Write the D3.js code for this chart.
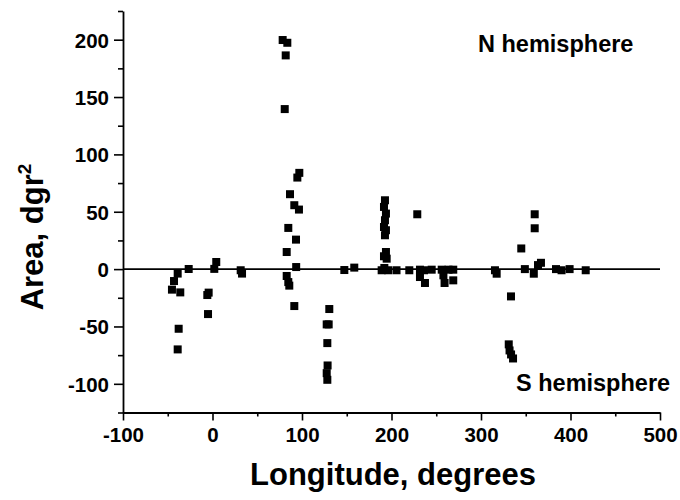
<!DOCTYPE html>
<html>
<head>
<meta charset="utf-8">
<script src="https://cdn.jsdelivr.net/npm/d3@7"></script>
<style>
  body { margin: 0; background: #fff; }
  text { font-family: "Liberation Sans", Arial, sans-serif; font-weight: bold; fill: #000; }
</style>
</head>
<body>
<div id="chart"></div>
<script>
// longitude (degrees) and area (dgr^2)
const longitude = [-38.9, -43, -45.3, -36, -26.6, -37.8, -38.9,
  4.2, 2, -4.3, -5.8, -5, 31.5, 33,
  78.4, 83.6, 81.8, 80.7, 97, 94.8, 86.6, 91.4, 96.6, 84.7, 93.3, 82.9, 93.5, 82.9, 84.7, 85.8, 91.4,
  130.5, 129.8, 127.6, 128.3, 128.6, 127.6, 128.3,
  147.3, 158.4,
  192.7, 191.6, 193.8, 192.7, 191.6, 193.8, 192.7, 193.8, 191.6, 194.6, 189, 196.3, 205.6, 192,
  228.8, 219.9, 231.8, 231.8, 237.4, 236.3, 244.9, 256.1, 258, 259.3, 269, 269, 263.7,
  315.6, 317.5, 333.5, 331, 331.9, 333.6, 335.8, 345, 349, 360, 360, 359, 363.7, 367, 383.8, 390, 399, 417];
const area = [-3.9, -10.4, -17.9, -20.3, 0.1, -52, -70,
  6.2, 0.2, -20.5, -22.6, -39.2, -1, -3.9,
  199.7, 197.3, 186.3, 139.5, 83.9, 79.8, 65.3, 55.7, 51.9, 35.9, 25.7, 14.9, 1.8, -6, -11.3, -14.4, -32.2,
  -34.8, -48.2, -48.2, -64.5, -84, -90.7, -96.5,
  -0.8, 1.3,
  60, 54.2, 48.4, 42.6, 36.7, 33.9, 29.5, 14.9, 11.2, 9.1, -1, -1, -1, 1,
  47.8, -1, -0.5, -6.9, -12.1, -1, -0.5, -0.5, -5.4, -12.1, -9.8, -0.5, -0.5,
  -1, -4, -23.8, -65.6, -70.9, -74.4, -77.9, 18, 0, 47.8, 35.6, -4, 3.5, 5.5, 0, -1, 0, -1];

const xTicks = [-100, 0, 100, 200, 300, 400, 500];
const yTicks = [-100, -50, 0, 50, 100, 150, 200];

const width = 680, height = 500;
const x = d3.scaleLinear().domain([-100, 500]).range([123, 660]);
const y = d3.scaleLinear().domain([-125, 225]).range([412.5, 11]);

const svg = d3.select("#chart").append("svg")
  .attr("width", width)
  .attr("height", height);

// minor ticks
svg.append("g")
  .attr("transform", `translate(0,${y(-125)})`)
  .call(d3.axisBottom(x).tickValues(d3.range(-50, 500, 100)).tickSize(4).tickFormat(""))
  .call(g => g.select(".domain").remove());
svg.append("g")
  .attr("transform", `translate(${x(-100)},0)`)
  .call(d3.axisLeft(y).tickValues(d3.range(-125, 226, 50)).tickSize(5).tickFormat(""))
  .call(g => g.select(".domain").remove());

// major axes (plain hyphen minus like the original)
const xAxis = svg.append("g")
  .attr("transform", `translate(0,${y(-125)})`)
  .call(d3.axisBottom(x).tickValues(xTicks).tickSize(8).tickSizeOuter(0).tickPadding(7)
    .tickFormat(d => String(d)));
const yAxis = svg.append("g")
  .attr("transform", `translate(${x(-100)},0)`)
  .call(d3.axisLeft(y).tickValues(yTicks).tickSize(9).tickSizeOuter(0).tickPadding(5)
    .tickFormat(d => String(d)));

svg.selectAll(".tick line").attr("stroke", "#000").attr("stroke-width", 1.6);
svg.selectAll(".domain").attr("stroke", "#000").attr("stroke-width", 1.8);
xAxis.selectAll("text").attr("font-size", 20.5).style("font-weight", "bold")
  .attr("font-family", "Liberation Sans, Arial, sans-serif");
yAxis.selectAll("text").attr("font-size", 20.5).style("font-weight", "bold")
  .attr("font-family", "Liberation Sans, Arial, sans-serif").attr("dy", "0.36em");

// zero line
svg.append("line")
  .attr("x1", x(-100)).attr("x2", x(500))
  .attr("y1", y(0)).attr("y2", y(0))
  .attr("stroke", "#000").attr("stroke-width", 1.6);

// points
const s = 8;
svg.append("g").selectAll("rect")
  .data(d3.range(longitude.length))
  .enter()
  .append("rect")
  .attr("x", i => x(longitude[i]) - s / 2)
  .attr("y", i => y(area[i]) - s / 2)
  .attr("width", s)
  .attr("height", s)
  .attr("fill", "#000");

// labels
svg.append("text").attr("x", 478).attr("y", 52).attr("font-size", 23.5).text("N hemisphere");
svg.append("text").attr("x", 516).attr("y", 391).attr("font-size", 23.5).text("S hemisphere");

svg.append("text")
  .attr("x", 393).attr("y", 485)
  .attr("text-anchor", "middle")
  .attr("font-size", 31)
  .text("Longitude, degrees");

const yt = svg.append("text")
  .attr("transform", "translate(43,237) rotate(-90)")
  .attr("text-anchor", "middle")
  .attr("font-size", 31);
yt.append("tspan").text("Area, dgr");
yt.append("tspan").attr("dy", -12).attr("font-size", 19).text("2");
</script>
</body>
</html>
